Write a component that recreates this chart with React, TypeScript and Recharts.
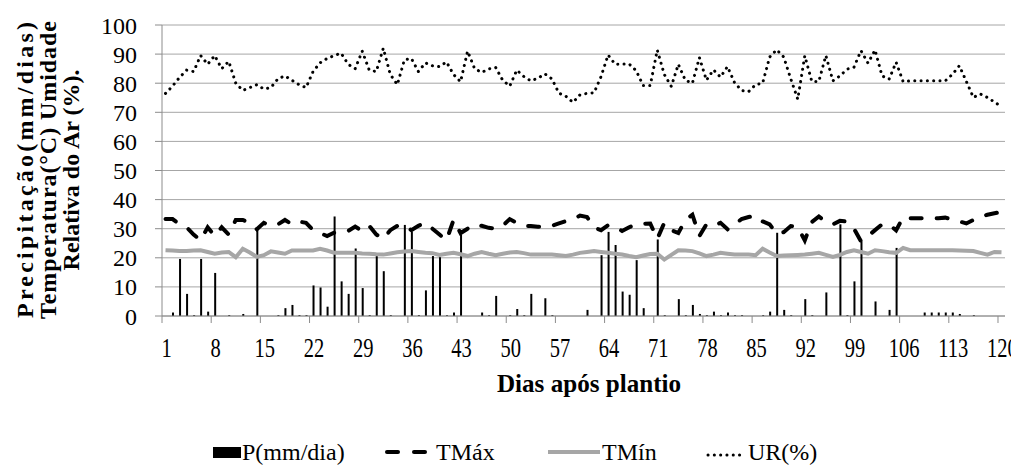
import React from 'react';
import { ComposedChart, Bar, Line, XAxis, YAxis, CartesianGrid } from 'recharts';

// Dias após plantio (1..120)
const days = Array.from({ length: 120 }, (_, i) => i + 1);

// Precipitação (mm/dia)
const precip = [
  0, 1.2, 19.6, 7.6, 0.3, 19.6, 1.5, 14.8, 0, 0.3,
  0, 0.7, 0, 29.8, 0, 0, 0.3, 2.7, 3.8, 0.3,
  0.3, 10.5, 9.8, 3.2, 34.2, 11.9, 7.6, 23.2, 9.6, 0.3,
  20.6, 15.4, 0.3, 0, 31.3, 29, 0.3, 8.8, 20.6, 20.2,
  0.3, 1.2, 28, 0, 0, 1.2, 0.3, 6.9, 0, 0.3,
  2.4, 0.3, 7.6, 0, 6.1, 0.3, 0, 0, 0, 0,
  2.1, 0, 20.9, 28.9, 24.4, 8.4, 7.3, 19.2, 2.7, 0,
  26.3, 0.3, 0, 5.8, 0.3, 3.8, 0.7, 0.3, 1.5, 0.3,
  1.2, 0.3, 0.3, 0, 0, 0.3, 1.5, 28.6, 2.1, 0.3,
  0, 5.8, 0.3, 0, 8.1, 0, 31.5, 0.3, 11.9, 25.7,
  0, 5, 0, 2.1, 23.4, 0, 0, 0, 1.2, 1.2,
  1.2, 1.2, 1.2, 0.7, 0, 0.3, 0, 0, 0, 0,
];

// Temperatura máxima (°C)
const tmax = [
  33.3, 33.3, 31.5, 30.5, 28, 26, 30.5, 27.5, 30.5, 28,
  33, 33, 32, 29.8, 32, 31, 31.5, 33, 31.5, 32.5,
  32, 29.5, 28.5, 27.5, 28.6, 29, 29.2, 30.7, 29.2, 31,
  28, 26.5, 29.5, 31, 31.2, 29.5, 31, 32, 30, 28,
  26, 33, 28.5, 30, 31.5, 31, 30.3, 30, 31, 33.3,
  32, 31, 30.9, 30.7, 30.6, 31, 31.8, 32.6, 33.3, 34.5,
  34, 30.4, 29.5, 31.2, 30.8, 29.2, 30.5, 31.5, 31.7, 31.8,
  26.5, 32, 29.5, 28.5, 33, 34.8, 27.5, 31.5, 31, 32,
  29.8, 31.5, 33.3, 34, 34.5, 32.5, 31.5, 28.3, 28.8, 30.9,
  30.5, 26, 32.3, 34.2, 32.3, 31.5, 32.7, 32.5, 30, 25.7,
  27.5, 29.5, 31.5, 31.5, 29.4, 34, 33.6, 33.6, 33.6, 33.6,
  33.6, 33.8, 33.2, 32.5, 31.8, 33, 34, 34.8, 35.3, 35.8,
];

// Temperatura mínima (°C)
const tmin = [
  22.6, 22.5, 22.3, 22.3, 22.5, 22.6, 22, 21.4, 21.8, 22,
  20.2, 23.1, 21.8, 20.3, 20.9, 22.2, 21.8, 21.4, 22.5, 22.5,
  22.5, 22.5, 23.1, 22.5, 21.7, 21.7, 21.7, 21.7, 21.5, 21.4,
  21.2, 21.1, 21.5, 21.9, 22.2, 22.3, 22, 21.7, 21.6, 21,
  21.4, 21.7, 21.2, 20.6, 21.4, 22, 21.4, 20.9, 21.4, 21.8,
  22, 21.6, 21.1, 21.1, 21.1, 21.1, 20.9, 20.6, 21.1, 21.7,
  22, 22.3, 22, 21.7, 21.4, 21.1, 20.6, 20.2, 20.8, 21.3,
  21.4, 19.4, 21, 22.6, 22.5, 22.3, 21.5, 20.6, 21.1, 21.7,
  21.4, 21.1, 21.1, 21.1, 20.9, 23.1, 21.8, 20.6, 20.8, 20.9,
  21, 21.1, 21.4, 21.7, 21, 20.3, 21, 22, 22.6, 22,
  21.4, 22.6, 22.3, 21.9, 21.7, 23.4, 22.6, 22.6, 22.6, 22.6,
  22.6, 22.6, 22.6, 22.5, 22.4, 22.3, 21.7, 21.1, 22, 21.9,
];

// Umidade relativa do ar (%)
const ur = [
  76.5, 79, 82, 84.5, 84, 89.5, 86.5, 89.5, 85, 87.5,
  80, 77.5, 78.5, 79.5, 78, 78.5, 81.5, 82.5, 81, 79.5,
  78.5, 84, 87, 88.5, 89.5, 90.3, 86.5, 85, 91, 84.5,
  84, 92, 83, 79.5, 88, 88.5, 84, 87, 86, 85.7,
  87.3, 83, 80.5, 91, 85, 83.7, 84.9, 85.4, 81, 79,
  84.5, 82.3, 80.8, 81.7, 83.2, 81.5, 76.6, 75.5, 73.4, 76,
  76.5, 76.7, 82.3, 89.7, 86.5, 86.6, 86.6, 84.3, 79.2, 79.2,
  91.4, 83, 78.9, 86.5, 81, 80, 88.8, 81, 84.6, 82.1,
  85.7, 80.2, 77.5, 77.1, 79.5, 80, 89, 91.5, 89, 81.5,
  74.5, 89.4, 80.6, 80.6, 89.5, 80.8, 82.5, 84.8, 85.5, 91.2,
  86.9, 91.4, 82.5, 81.4, 87.2, 80.5, 80.8, 80.8, 80.8, 80.8,
  80.8, 80.8, 83, 86, 80.6, 75.1, 76.3, 75.1, 73.5, 72,
];

const yTicks = [0, 10, 20, 30, 40, 50, 60, 70, 80, 90, 100];

const data = days.map((day, i) => ({
  day,
  p: precip[i],
  tmax: tmax[i],
  tmin: tmin[i],
  ur: ur[i],
}));

const SERIF = '"Liberation Serif", "Times New Roman", serif';
const AXIS = '#8c8c8c';
const GRID = '#a6a6a6';
const GRAY_LINE = '#a6a6a6';

// tick mark sits on the category boundary, label is narrow and tall like the original
const XTick = ({ x, y, payload }: any) => (
  <g>
    <line x1={x - 3.5} x2={x - 3.5} y1={y} y2={y + 7} stroke={AXIS} />
    <text
      transform={`translate(${x + 1},${y + 41}) scale(0.76,1)`}
      textAnchor="middle"
      fontFamily={SERIF}
      fontSize={27}
      fill="#000"
    >
      {payload.value}
    </text>
  </g>
);

const YTitle = () => (
  <g fontFamily={SERIF} fontWeight="bold" fontSize={24} fill="#000">
    <text transform="translate(25,162) rotate(-90)" textAnchor="middle" textLength={296} lengthAdjust="spacing">
      Precipitação(mm/dias)
    </text>
    <text transform="translate(48,162) rotate(-90)" textAnchor="middle" textLength={298} lengthAdjust="spacing">
      Temperatura(°C) Umidade
    </text>
    <text transform="translate(71,162) rotate(-90)" textAnchor="middle">
      Relativa do Ar (%).
    </text>
  </g>
);

const XTitle = () => (
  <text
    x={581}
    y={384}
    textAnchor="middle"
    fontFamily={SERIF}
    fontWeight="bold"
    fontSize={26}
    textLength={184}
    lengthAdjust="spacingAndGlyphs"
    fill="#000"
  >
    Dias após plantio
  </text>
);

function LegendRow() {
  return (
    <svg width={1011} height={32} style={{ position: 'absolute', left: 0, top: 430 }}>
      <g fontFamily={SERIF} fontSize={24} fill="#000">
        <rect x={205} y={9} width={28} height={11} fill="#000" />
        <text x={234} y={22}>P(mm/dia)</text>
        <line x1={379} x2={390} y1={14} y2={14} stroke="#000" strokeWidth={4} strokeLinecap="round" />
        <line x1={406} x2={417} y1={14} y2={14} stroke="#000" strokeWidth={4} strokeLinecap="round" />
        <text x={428} y={22}>TMáx</text>
        <line x1={540} x2={592} y1={14} y2={14} stroke={GRAY_LINE} strokeWidth={4} />
        <text x={594} y={22}>TMín</text>
        <line x1={700} x2={737} y1={17} y2={17} stroke="#000" strokeWidth={3} strokeDasharray="0.1 6.2" strokeLinecap="round" />
        <text x={740} y={22}>UR(%)</text>
      </g>
    </svg>
  );
}

export default function App() {
  return (
    <div style={{ position: 'relative', width: 1011, height: 462, background: '#fff' }}>
      <style>{'.recharts-surface { overflow: visible; }'}</style>
      <ComposedChart width={1011} height={400} data={data} margin={{ top: 17, right: 14, left: 0, bottom: 0 }}>
        <CartesianGrid vertical={false} stroke={GRID} />
        <XAxis
          dataKey="day"
          interval={6}
          height={92}
          tickSize={0}
          tickMargin={0}
          tickLine={false}
          axisLine={{ stroke: AXIS }}
          tick={<XTick />}
          label={{ content: () => <XTitle /> }}
        />
        <YAxis
          width={154}
          domain={[0, 100]}
          ticks={yTicks}
          interval={0}
          tickSize={7}
          tickMargin={18}
          tickLine={{ stroke: AXIS }}
          axisLine={{ stroke: AXIS }}
          tick={{ fill: '#000', fontSize: 24, fontFamily: SERIF }}
          label={{ content: () => <YTitle /> }}
        />
        <Line dataKey="tmin" type="linear" stroke={GRAY_LINE} strokeWidth={4} dot={false} isAnimationActive={false} />
        <Bar dataKey="p" fill="#000" barSize={2} isAnimationActive={false} />
        <Line
          dataKey="tmax"
          type="linear"
          stroke="#000"
          strokeWidth={4}
          strokeDasharray="11 15"
          strokeLinecap="round"
          dot={false}
          isAnimationActive={false}
        />
        <Line
          dataKey="ur"
          type="linear"
          stroke="#000"
          strokeWidth={3}
          strokeDasharray="0.1 6.2"
          strokeLinecap="round"
          dot={false}
          isAnimationActive={false}
        />
      </ComposedChart>
      <LegendRow />
    </div>
  );
}
